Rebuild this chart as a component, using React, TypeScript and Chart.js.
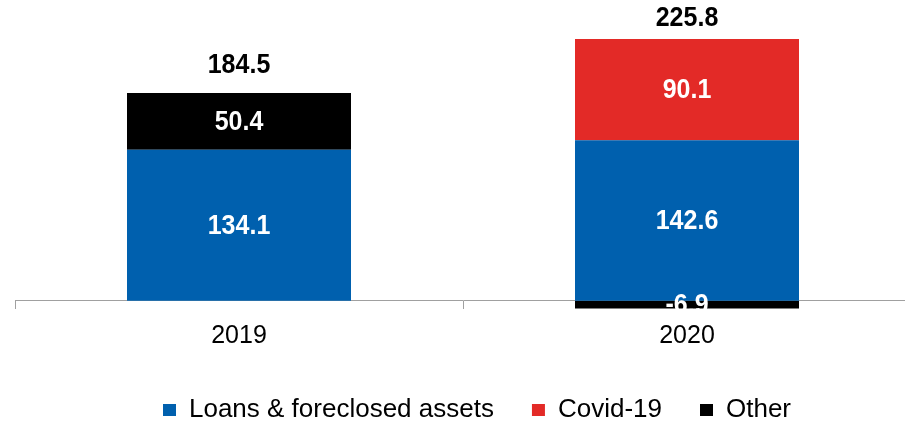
import React, { useEffect, useRef } from "react";
import { Chart, registerables } from "chart.js";

Chart.register(...registerables);

const categories = ["2019", "2020"];
const seriesNames = ["Loans & foreclosed assets", "Covid-19", "Other"];
const loansValues = [134.1, 142.6];
const covidValues = [null, 90.1];
const otherValues = [50.4, -6.9];
const totalValues = [184.5, 225.8];

const colors = ["#0060AE", "#E32A27", "#000000"];
const FONT = "'Liberation Sans', Arial, Helvetica, sans-serif";

function drawTallText(ctx: CanvasRenderingContext2D, text: string, x: number, y: number) {
  ctx.save();
  ctx.translate(x, y);
  ctx.scale(1, 1.12);
  ctx.fillText(text, 0, 0);
  ctx.restore();
}

const labelPlugin = {
  id: "valueLabels",
  afterLayout(chart: any) {
    if (chart.legend) {
      chart.legend.left += 14;
      chart.legend.right += 14;
    }
  },
  afterDatasetsDraw(chart: any) {
    const ctx = chart.ctx;
    ctx.save();
    ctx.font = `bold 25px ${FONT}`;
    ctx.textAlign = "center";
    ctx.textBaseline = "middle";
    chart.data.datasets.forEach((ds: any, di: number) => {
      const meta = chart.getDatasetMeta(di);
      meta.data.forEach((el: any, i: number) => {
        const v = ds.data[i];
        if (v == null) return;
        const { x, y, base } = el.getProps(["x", "y", "base"], true);
        ctx.fillStyle = "#ffffff";
        drawTallText(ctx, v.toFixed(1), x, (y + base) / 2 + 1);
      });
    });
    const yScale = chart.scales.y;
    const meta0 = chart.getDatasetMeta(0);
    totalValues.forEach((t, i) => {
      const x = meta0.data[i].x;
      ctx.fillStyle = "#000000";
      drawTallText(ctx, t.toFixed(1), x, yScale.getPixelForValue(t) - 28);
    });
    ctx.restore();
  },
};

export default function App() {
  const ref = useRef<HTMLCanvasElement | null>(null);
  useEffect(() => {
    document.documentElement.style.overflow = "hidden";
    document.body.style.overflow = "hidden";
    const chart = new Chart(ref.current as HTMLCanvasElement, {
      type: "bar",
      data: {
        labels: categories,
        datasets: [
          { label: seriesNames[0], data: loansValues, backgroundColor: colors[0], borderWidth: 0 },
          { label: seriesNames[1], data: covidValues as any, backgroundColor: colors[1], borderWidth: 0 },
          { label: seriesNames[2], data: otherValues, backgroundColor: colors[2], borderWidth: 0 },
        ],
      },
      options: {
        animation: false,
        responsive: true,
        maintainAspectRatio: false,
        layout: { padding: { left: 15, right: 0, top: 0, bottom: -9 } },
        datasets: { bar: { barPercentage: 0.5, categoryPercentage: 1 } },
        scales: {
          x: {
            stacked: true,
            position: { y: 0 } as any,
            grid: {
              display: true,
              offset: true,
              drawOnChartArea: false,
              drawTicks: true,
              tickLength: 8,
              color: "#A0A0A0",
            },
            border: { display: true, color: "#A0A0A0", width: 1 },
            ticks: { color: "#000000", font: { family: FONT, size: 25 }, padding: 12 },
          },
          y: {
            stacked: true,
            display: false,
            min: -51.9,
            max: 267.3,
          },
        },
        plugins: {
          legend: {
            position: "bottom",
            labels: {
              color: "#000000",
              font: { family: FONT, size: 26 },
              boxWidth: 13,
              boxHeight: 12,
              padding: 38,
            },
          },
          tooltip: { enabled: false },
        },
      },
      plugins: [labelPlugin],
    });
    return () => chart.destroy();
  }, []);
  return (
    <div style={{ position: "absolute", left: 0, top: 0, width: 911, height: 424 }}>
      <canvas ref={ref} />
    </div>
  );
}
